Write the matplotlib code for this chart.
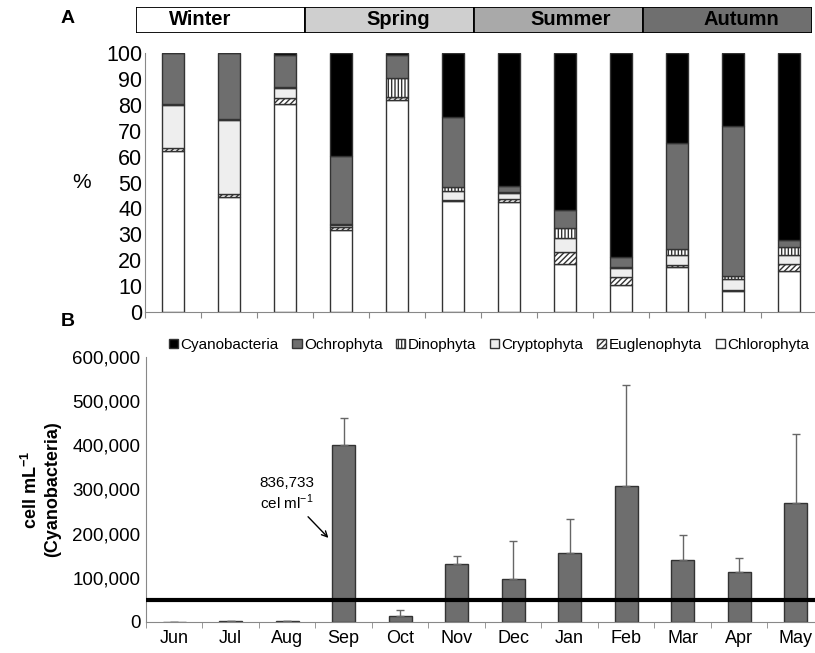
import numpy as np
import matplotlib
matplotlib.use("Agg")
import matplotlib.pyplot as plt

plt.rcParams['font.family'] = ['Liberation Sans', 'DejaVu Sans']
plt.rcParams['mathtext.fontset'] = 'custom'
plt.rcParams['mathtext.rm'] = 'Liberation Sans'
plt.rcParams['mathtext.bf'] = 'Liberation Sans:bold'

# Data
months = ['Jun', 'Jul', 'Aug', 'Sep', 'Oct', 'Nov', 'Dec', 'Jan', 'Feb', 'Mar', 'Apr', 'May']
seasons = ['Winter', 'Spring', 'Summer', 'Autumn']

# Panel A: relative abundance (%)
chlorophyta = [62.3, 44.3, 80.2, 31.7, 81.8, 42.8, 42.6, 18.6, 10.4, 17.3, 8.1, 15.8]
euglenophyta = [0.9, 1.1, 2.5, 1.0, 1.0, 0.3, 0.9, 4.5, 3.0, 0.9, 0.3, 2.9]
cryptophyta = [16.6, 28.7, 3.8, 0.9, 0.3, 3.8, 2.6, 5.4, 3.5, 3.9, 4.3, 3.4]
dinophyta = [0.3, 0.3, 0.5, 0.3, 7.4, 1.5, 0.3, 3.8, 0.6, 2.3, 1.3, 2.9]
ochrophyta = [19.9, 25.6, 12.1, 26.4, 8.6, 26.7, 2.3, 7.1, 3.8, 40.9, 57.8, 2.9]
cyanobacteria = [0.0, 0.0, 0.9, 39.7, 0.9, 24.9, 51.3, 60.6, 78.7, 34.7, 28.2, 72.1]

# Panel B: cyanobacteria density (cell/mL) and upper error
cyano_cells = [0, 1500, 1500, 400000, 13500, 130000, 97000, 155000, 307000, 140000, 112000, 270000]
cyano_err = [0, 0, 0, 62000, 13500, 19000, 86000, 78000, 230000, 56000, 33000, 156000]
threshold = 50000

fig = plt.figure(figsize=(8.15, 6.53), dpi=100)

x = np.arange(len(months))

# ---- season strip ----
ax_s = fig.add_axes([0.167, 0.9495, 0.8294, 0.0398])
season_colors = ['white', '#cfcfcf', '#a9a9a9', '#6f6f6f']
season_text_x = [0.38, 1.55, 2.57, 3.58]
for i, s in enumerate(seasons):
    ax_s.barh(0, 1, left=i, height=1, color=season_colors[i], edgecolor='black', linewidth=1.3)
    ax_s.text(season_text_x[i], 0, s, ha='center', va='center', fontsize=14.5, fontweight='bold')
ax_s.set_xlim(0, 4)
ax_s.set_ylim(-0.5, 0.5)
ax_s.axis('off')

# ---- panel A ----
axA = fig.add_axes([0.178, 0.522, 0.824, 0.397])
layers = [
    ('Chlorophyta', chlorophyta, 'white', None),
    ('Euglenophyta', euglenophyta, 'white', '//////'),
    ('Cryptophyta', cryptophyta, '#eeeeee', None),
    ('Dinophyta', dinophyta, 'white', '|||||'),
    ('Ochrophyta', ochrophyta, '#6e6e6e', None),
    ('Cyanobacteria', cyanobacteria, 'black', None),
]
bottom = np.zeros(len(months))
handles = {}
for name, vals, col, hatch in layers:
    b = axA.bar(x, vals, width=0.39, bottom=bottom, color=col, edgecolor='#333333',
                linewidth=1.0, hatch=hatch, label=name)
    handles[name] = b
    bottom += np.array(vals)

axA.set_xlim(-0.5, 11.5)
axA.set_ylim(0, 100)
axA.set_yticks(range(0, 101, 10))
axA.tick_params(axis='y', labelsize=15.5, length=0, pad=2)
axA.set_xticks(np.arange(-0.5, 12, 1))
axA.set_xticklabels([])
axA.tick_params(axis='x', length=4, color='#888888', direction='out')
for sp in ['top', 'right']:
    axA.spines[sp].set_visible(False)
axA.spines['left'].set_color('#888888')
axA.spines['bottom'].set_color('#888888')
axA.set_ylabel('%', fontsize=15, rotation=0, labelpad=18, va='center')

# legend between panels
order = ['Cyanobacteria', 'Ochrophyta', 'Dinophyta', 'Cryptophyta', 'Euglenophyta', 'Chlorophyta']
fig.legend([handles[n] for n in order], order, loc='center', bbox_to_anchor=(0.6, 0.472),
           ncol=6, frameon=False, fontsize=11, handlelength=0.6, handleheight=0.6,
           handletextpad=0.15, columnspacing=0.9, borderpad=0)

# ---- panel B ----
axB = fig.add_axes([0.179, 0.048, 0.832, 0.405])
axB.bar(x, cyano_cells, width=0.41, color='#6e6e6e', edgecolor='#333333', linewidth=1.0,
        yerr=[np.zeros(len(months)), cyano_err], error_kw=dict(ecolor='#666666', elinewidth=1.0,
        capsize=3, capthick=1.0), zorder=2)
axB.axhline(threshold, color='black', linewidth=3, zorder=3)
axB.set_xlim(-0.5, 11.5)
axB.set_ylim(0, 600000)
axB.set_yticks(range(0, 600001, 100000))
axB.set_yticklabels(['0'] + ['{:,}'.format(v) for v in range(100000, 600001, 100000)])
axB.tick_params(axis='y', labelsize=13.5, length=0, pad=4)
axB.set_xticks(x)
axB.set_xticklabels(months)
axB.tick_params(axis='x', which='major', length=0, labelsize=13, pad=6)
axB.set_xticks(np.arange(-0.5, 12, 1), minor=True)
axB.tick_params(axis='x', which='minor', length=4, color='#888888')
for sp in ['top', 'right']:
    axB.spines[sp].set_visible(False)
axB.spines['left'].set_color('#888888')
axB.spines['bottom'].set_color('#888888')
axB.set_ylabel('cell mL$^{\\mathbf{-1}}$\n(Cyanobacteria)', fontsize=13, fontweight='bold', labelpad=8)

axB.text(2.0, 290000, '836,733\ncel ml$^{-1}$', fontsize=11, ha='center', va='center')
axB.annotate('', xy=(2.73, 190000), xytext=(2.37, 238000),
             arrowprops=dict(arrowstyle='->', color='black', lw=1.0, shrinkA=0, shrinkB=0))

fig.text(0.083, 0.972, 'A', fontsize=14, fontweight='bold', ha='center', va='center')
fig.text(0.083, 0.507, 'B', fontsize=14, fontweight='bold', ha='center', va='center')

fig.savefig('out.png', dpi=100)
